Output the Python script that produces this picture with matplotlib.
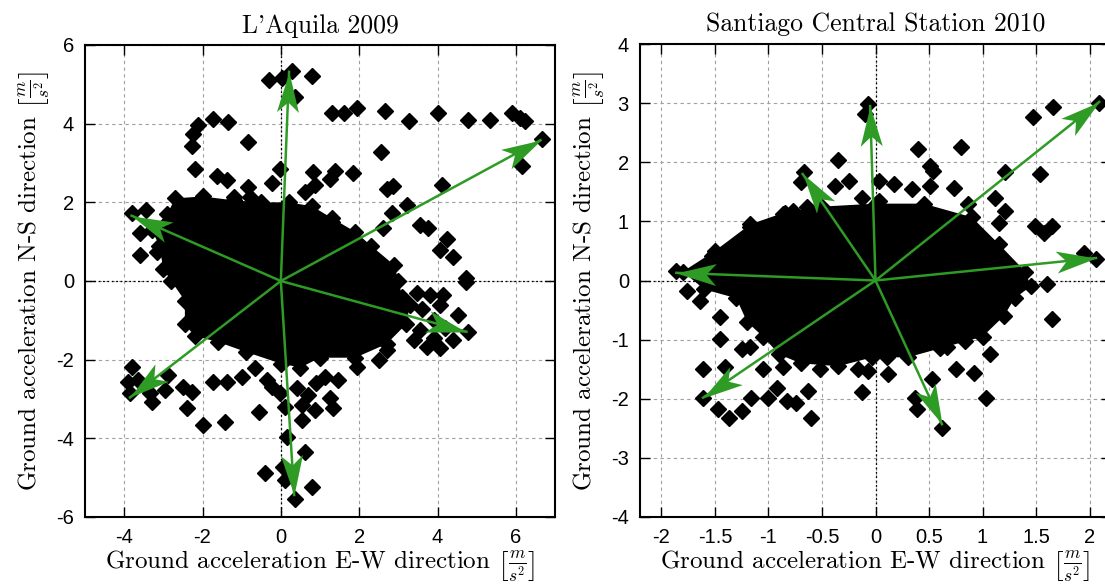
import numpy as np
import matplotlib
matplotlib.use('Agg')
import matplotlib.pyplot as plt
from matplotlib.markers import MarkerStyle
from matplotlib.path import Path
from matplotlib.transforms import Affine2D

plt.rcParams['font.family'] = ['Liberation Sans', 'DejaVu Sans']
plt.rcParams['axes.unicode_minus'] = False
plt.rcParams['mathtext.fontset'] = 'cm'

# L'Aquila 2009: outline of the dense core of the cloud
aq_core_x = [-2.7, -2.0, -1.2, -0.5, 0.2, 0.8, 1.3, 1.9, 2.3, 2.9, 3.0, 3.1, 3.3, 3.2, 2.7,
             1.9, 1.0, 0.5, 0.0, -0.9, -1.6, -2.2, -2.45, -2.45, -2.8, -3.0, -3.1, -3.3, -2.9]
aq_core_y = [2.1, 2.15, 2.05, 2.0, 2.0, 1.9, 1.6, 1.25, 0.9, 0.4, 0.0, -0.4, -0.6, -1.1, -1.6,
             -1.95, -1.95, -2.2, -2.1, -1.8, -1.55, -1.4, -1.1, -0.5, 0.0, 0.3, 0.9, 1.3, 1.7]
# L'Aquila 2009: scattered samples outside the core
aq_x = [-0.29, 0.02, 0.29, 0.80, 0.36, -1.72, -1.34, -2.12, -2.23, -2.28, -0.83, -2.19, -1.64,
        -1.38, -0.83, -1.19, -0.79, -0.23, -0.02, 0.83, 0.62, 0.87, -3.81, -3.43, -3.60, -3.60,
        -3.17, 1.30, 1.61, 1.94, 2.66, 3.26, 4.00, 4.77, 5.34, 5.89, 6.11, 6.23, 6.66, 6.15,
        2.56, 1.38, 1.26, 1.85, 2.70, 2.87, 4.11, 3.21, 2.83, 2.62, 3.55, 3.77, 4.23, 4.06,
        4.39, 4.74, 1.30, -3.81, -3.89, -3.64, -3.85, -3.30, -3.34, -2.87, -2.96, -2.49, -2.28,
        -2.40, -1.98, -1.43, -1.72, -1.38, -0.99, -0.66, -0.57, -0.36, -0.02, 0.40, 0.53, 0.87,
        0.53, 0.15, 0.62, -0.40, 0.06, 0.11, 0.36, 0.79, -0.23, 0.11, 0.70, 0.90, 3.47, 3.81,
        4.15, 4.06, 4.53, 4.79, 4.74, 3.55, 3.72, 4.06, 4.40, 2.51, 1.94, 1.47, 1.13, 1.26,
        1.34, 2.70, 3.90, 4.20, 3.40, 3.90, 3.60]
aq_y = [5.11, 5.15, 5.34, 5.22, 4.69, 4.12, 4.03, 3.97, 3.75, 3.42, 3.54, 2.86, 2.68,
        2.57, 2.40, 2.14, 2.14, 2.48, 2.85, 2.78, 2.27, 2.44, 1.72, 1.81, 1.21, 0.66,
        0.75, 4.26, 4.26, 4.39, 4.32, 4.07, 4.28, 4.09, 4.09, 4.26, 4.14, 4.07, 3.60, 2.93,
        3.27, 2.80, 2.59, 2.74, 2.34, 2.42, 2.44, 1.93, 1.72, 1.36, 1.42, 1.36, 1.07, 0.79,
        0.62, 0.08, 1.51, -2.18, -2.56, -2.52, -2.86, -3.07, -2.86, -2.39, -2.77, -2.69, -2.81,
        -3.24, -3.66, -3.58, -2.56, -2.56, -2.43, -2.22, -3.32, -2.52, -2.86, -2.73, -3.15, -3.28,
        -3.53, -3.96, -4.34, -4.89, -4.72, -5.06, -5.53, -5.23, -2.69, -3.20, -2.90, -2.60, -0.31, -0.36,
        -0.36, -0.61, -0.86, -1.29, -0.02, -1.25, -1.67, -1.71, -1.50, -2.01, -2.18, -2.52, -2.43, -2.98,
        -3.24, -1.75, -1.00, -1.20, -1.50, -1.45, -0.70]
# L'Aquila 2009: principal direction arrows (tips)
aq_tip_x = [0.21, 6.63, -3.81, 4.74, -3.85, 0.34]
aq_tip_y = [5.32, 3.58, 1.66, -1.29, -2.96, -5.44]

# Santiago 2010: outline of the dense core
sc_core_x = [-1.8, -1.5, -1.17, -0.85, -0.5, 0.0, 0.45, 0.9, 1.15, 1.4, 1.45, 1.3, 1.2, 1.0,
             0.6, 0.3, -0.03, -0.35, -0.7, -0.9, -1.05, -1.2, -1.3, -1.6]
sc_core_y = [0.15, 0.5, 0.95, 1.15, 1.25, 1.3, 1.3, 1.07, 0.62, 0.15, -0.1, -0.3, -0.6, -0.95,
             -1.15, -1.3, -1.3, -1.45, -1.4, -1.25, -0.95, -0.7, -0.3, -0.15]
# Santiago 2010: scattered samples
sc_x = [-0.07, -0.10, -0.35, -0.67, -0.70, -0.25, -0.38, -0.13, -0.64, -0.86, -0.77,
        2.09, 1.66, 1.47, 0.40, 0.80, 0.51, 0.54, 1.21, 1.54, 0.17, 0.34, 0.51, 0.73, 0.03,
        0.03, 1.12, 1.21, 1.15, 0.86, 1.49, 1.65, 1.57, 1.95, 2.06, -1.86, -1.53, -1.17,
        -1.76, -1.64, -1.45, -1.45, -1.61, -1.41, -1.25, -1.17, -1.61, -1.47, -1.37, -1.25,
        -1.16, -1.00, -0.92, -0.83, -0.74, -0.63, -0.60, -1.05, -0.86, -0.52, -0.13, -0.16,
        -0.07, 1.60, 1.65, 0.12, 0.11, 0.75, 0.92, 1.07, 1.03, 0.53, 0.37, 0.39, 0.62, 0.67, 0.84]
sc_y = [2.98, 2.82, 2.03, 1.83, 1.66, 1.69, 1.60, 1.39, 1.24, 1.12, 1.18,
        3.01, 2.94, 2.76, 2.23, 2.26, 1.94, 1.86, 1.84, 1.80, 1.63, 1.55, 1.60, 1.57, 1.69,
        1.35, 1.39, 1.18, 0.98, 1.29, 0.93, 0.93, 0.81, 0.47, 0.36, 0.16, 0.42, 0.90,
        -0.17, -0.34, -0.62, -0.99, -1.50, -1.47, -1.16, -1.13, -1.98, -2.18, -2.32, -2.20,
        -1.98, -1.98, -1.81, -2.03, -2.07, -1.87, -2.32, -1.50, -1.47, -1.50, -1.89, -1.50,
        -1.53, -0.06, -0.65, -1.58, -1.30, -1.50, -1.56, -1.25, -1.98, -1.67, -1.98, -2.18, -2.49, -1.13, -1.02]
sc_tip_x = [-0.05, 2.09, -0.68, -1.86, 2.06, -1.61, 0.62]
sc_tip_y = [2.95, 3.02, 1.80, 0.13, 0.38, -1.98, -2.43]

aq_xticks = [-4, -2, 0, 2, 4, 6]
aq_yticks = [-6, -4, -2, 0, 2, 4, 6]
sc_xticks = [-2, -1.5, -1, -0.5, 0, 0.5, 1, 1.5, 2]
sc_yticks = [-4, -3, -2, -1, 0, 1, 2, 3, 4]

green = '#2e9b25'
xlab = r'Ground acceleration E-W direction $\left[\frac{m}{s^2}\right]$'
ylab = r'Ground acceleration N-S direction $\left[\frac{m}{s^2}\right]$'

head = Path([(0, 0), (-40, 11), (-30, 0), (-40, -11), (0, 0)],
            [Path.MOVETO, Path.LINETO, Path.LINETO, Path.LINETO, Path.CLOSEPOLY])

fig = plt.figure(figsize=(11.05, 5.87), dpi=100)
ax1 = fig.add_axes([85 / 1105, 70 / 587, 470 / 1105, 472 / 587])
ax2 = fig.add_axes([640 / 1105, 70 / 587, 471 / 1105, 473 / 587])


def panel(ax, cx, cy, px, py, tx, ty, xlim, ylim, xt, yt, title):
    ax.set_xlim(xlim)
    ax.set_ylim(ylim)
    ax.set_axisbelow(True)
    ax.grid(True, color='#a0a0a0', linestyle=(0, (3, 3)), lw=0.8)
    ax.axhline(0, color='black', linestyle=(0, (1.5, 2)), lw=0.9, zorder=1)
    ax.axvline(0, color='black', linestyle=(0, (1.5, 2)), lw=0.9, zorder=1)
    ax.fill(cx, cy, color='black', lw=0, zorder=2)
    ax.plot(cx, cy, 'D', ms=8, color='black', ls='none', zorder=2)
    ax.plot(px, py, 'D', ms=8, color='black', ls='none', zorder=3)
    o = ax.transData.transform((0, 0))
    for x, y in zip(tx, ty):
        ax.plot([0, x], [0, y], color=green, lw=1.8, zorder=4)
        p = ax.transData.transform((x, y))
        ang = np.degrees(np.arctan2(p[1] - o[1], p[0] - o[0]))
        m = MarkerStyle(head, transform=Affine2D().rotate_deg(ang))
        ax.plot([x], [y], marker=m, ms=57.6, color=green, mew=0, ls='none', zorder=5)
    ax.set_xticks(xt)
    ax.set_yticks(yt)
    ax.set_xticklabels(['%g' % v for v in xt])
    ax.set_yticklabels(['%g' % v for v in yt])
    ax.tick_params(direction='in', length=7, width=1, top=True, right=True,
                   labelsize=14.5, pad=8)
    for s in ax.spines.values():
        s.set_linewidth(1.5)
    ax.set_title(title, fontfamily='cmr10', fontsize=18.5, pad=9)
    ax.set_xlabel(xlab, fontfamily='cmr10', fontsize=18, labelpad=1)
    ax.set_ylabel(ylab, fontfamily='cmr10', fontsize=18, labelpad=3)


panel(ax1, aq_core_x, aq_core_y, aq_x, aq_y, aq_tip_x, aq_tip_y,
      (-5, 7), (-6, 6), aq_xticks, aq_yticks, "L'Aquila 2009")
panel(ax2, sc_core_x, sc_core_y, sc_x, sc_y, sc_tip_x, sc_tip_y,
      (-2.2, 2.2), (-4, 4), sc_xticks, sc_yticks, 'Santiago Central Station 2010')

fig.savefig('out.png', dpi=100)
